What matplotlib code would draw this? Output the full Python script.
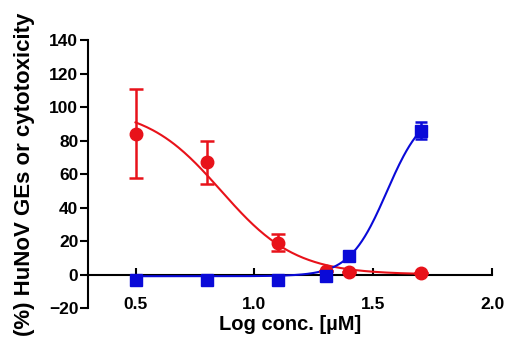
import matplotlib.pyplot as plt
import numpy as np

plt.rcParams['font.family'] = ['Liberation Sans', 'DejaVu Sans']
plt.rcParams['font.weight'] = 'bold'

# HuNoV GEs (red circles)
red_x = [0.5, 0.8, 1.1, 1.3, 1.4, 1.7]
red_y = [84, 67, 19, 2, 1.5, 1]
red_err = [26.5, 13, 5, 0, 0, 0]

# cytotoxicity (blue squares)
blue_x = [0.5, 0.8, 1.1, 1.3, 1.4, 1.7]
blue_y = [-3, -3, -3, -1, 11, 86]
blue_err = [0, 0, 0, 0, 0, 5]

# fitted sigmoid parameters (bottom, top, logIC50, hill)
red_fit = (0, 100, 0.86, -2.77)
blue_fit = (-1, 100, 1.557, 5.54)


def sigmoid(x, p):
    bottom, top, c, h = p
    return bottom + (top - bottom) / (1 + 10 ** ((c - x) * h))


red_c = '#e8121a'
blue_c = '#0a0ad8'

fig = plt.figure(figsize=(5.1, 3.37), dpi=100)
ax = fig.add_axes([0.1725, 0.086, 0.7925, 0.795])

xs = np.linspace(0.5, 1.7, 200)
ax.plot(xs, sigmoid(xs, red_fit), color=red_c, lw=1.5, zorder=3)
ax.plot(xs, sigmoid(xs, blue_fit), color=blue_c, lw=1.5, zorder=3)

ax.errorbar(red_x, red_y, yerr=red_err, fmt='o', color=red_c, ms=9,
            capsize=5, elinewidth=1.8, capthick=1.8, zorder=4)
ax.errorbar(blue_x, blue_y, yerr=blue_err, fmt='s', color=blue_c, ms=8,
            capsize=4, elinewidth=1.8, capthick=1.8, zorder=5)

ax.set_xlim(0.3, 2.0)
ax.set_ylim(-20, 140)
ax.set_yticks(range(-20, 141, 20))
ax.set_xticks([0.5, 1.0, 1.5, 2.0])
ax.set_xticklabels(['0.5', '1.0', '1.5', '2.0'])

ax.spines['top'].set_visible(False)
ax.spines['right'].set_visible(False)
ax.spines['bottom'].set_position(('data', 0))
ax.spines['bottom'].set_zorder(2)
for s in ['left', 'bottom']:
    ax.spines[s].set_linewidth(1.5)

ax.tick_params(axis='y', direction='out', length=6, width=1.5, labelsize=12.5, pad=1)
ax.tick_params(axis='x', direction='in', length=5, width=1.5, labelsize=12.5, pad=16)

ax.set_xlabel('Log conc. [µM]', fontsize=14.5, fontweight='bold')
ax.set_ylabel('(%) HuNoV GEs or cytotoxicity', fontsize=16, fontweight='bold')
ax.xaxis.set_label_coords(0.5, -0.025)
ax.yaxis.set_label_coords(-0.13, 0.5)

fig.savefig('out.png', dpi=100)
